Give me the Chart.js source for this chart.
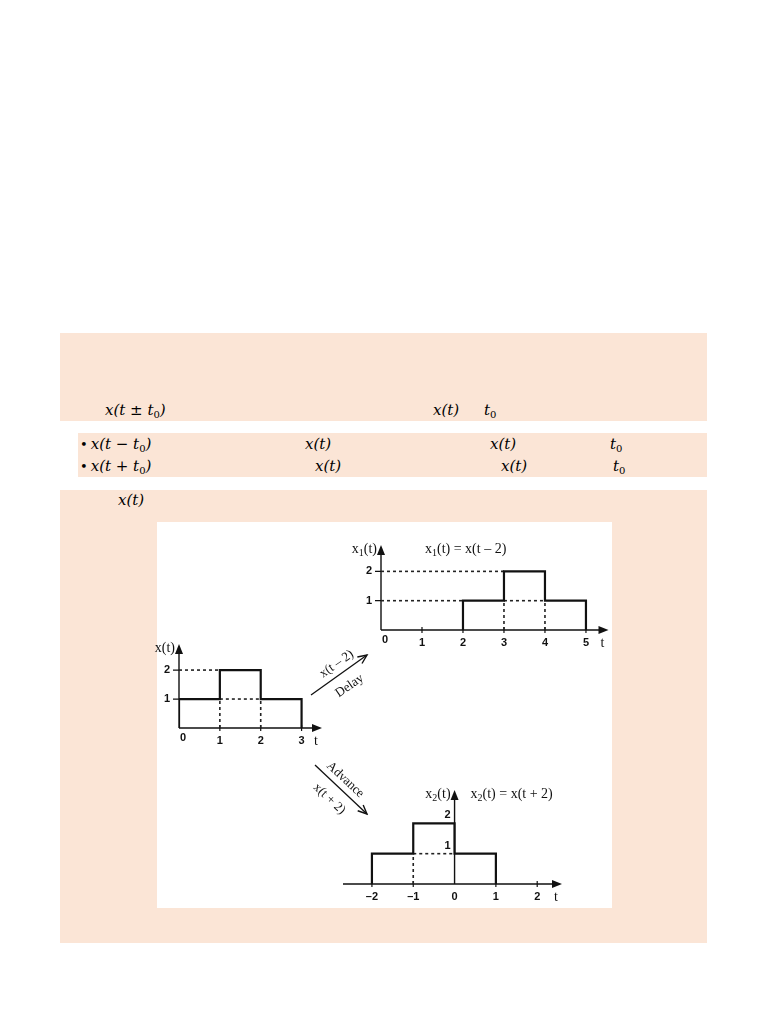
<!DOCTYPE html>
<html>
<head>
<meta charset="utf-8">
<script src="https://cdn.jsdelivr.net/npm/chart.js"></script>
<style>
body { margin: 0; background: #fff; width: 768px; height: 1024px; position: relative; overflow: hidden; }
.panel { position: absolute; background: #fbe5d6; }
.m { position: absolute; font-family: "DejaVu Serif", serif; font-style: italic; font-size: 15px; line-height: 20px; white-space: nowrap; color: #000; }
.m sub { font-style: normal; font-size: 10px; vertical-align: -3px; line-height: 0; }
.m .b { font-style: normal; font-size: 13px; margin-right: 3px; }
.box { position: absolute; left: 157px; top: 522px; width: 455px; height: 386px; background: #fff; }
canvas { position: absolute; }
svg { position: absolute; left: 0; top: 0; }
</style>
</head>
<body>
<div class="panel" style="left:60px;top:333px;width:647px;height:88px"></div>
<div class="panel" style="left:78px;top:433px;width:629px;height:44px"></div>
<div class="panel" style="left:60px;top:490px;width:647px;height:453px"></div>

<div class="m" style="left:105px;top:400px">x(t ± t<sub>0</sub>)</div>
<div class="m" style="left:433px;top:400px">x(t)</div>
<div class="m" style="left:484px;top:400px">t<sub>0</sub></div>

<div class="m" style="left:80px;top:434px"><span class="b">•</span>x(t − t<sub>0</sub>)</div>
<div class="m" style="left:305px;top:434px">x(t)</div>
<div class="m" style="left:490px;top:434px">x(t)</div>
<div class="m" style="left:610px;top:434px">t<sub>0</sub></div>

<div class="m" style="left:80px;top:456px"><span class="b">•</span>x(t + t<sub>0</sub>)</div>
<div class="m" style="left:315px;top:456px">x(t)</div>
<div class="m" style="left:501px;top:456px">x(t)</div>
<div class="m" style="left:613px;top:456px">t<sub>0</sub></div>

<div class="m" style="left:118px;top:490px">x(t)</div>

<div class="box"></div>
<canvas id="c1" width="230" height="194" style="left:150px;top:636px"></canvas>
<canvas id="c2" width="270" height="112" style="left:345px;top:535px"></canvas>
<canvas id="c3" width="245" height="125" style="left:330px;top:780px"></canvas>

<svg width="768" height="1024">
  <defs>
    <marker id="ah" markerWidth="12" markerHeight="12" refX="10" refY="5" orient="auto" markerUnits="userSpaceOnUse">
      <path d="M1,1 L10,5 L1,9" fill="none" stroke="#111" stroke-width="1.4"/>
    </marker>
  </defs>
  <g font-family="Liberation Serif, serif" font-size="13" fill="#111" text-anchor="middle">
    <line x1="311" y1="695" x2="367" y2="655" stroke="#111" stroke-width="1.3" marker-end="url(#ah)"/>
    <text transform="translate(336,663) rotate(-35)" dominant-baseline="central">x(t – 2)</text>
    <text transform="translate(349,685) rotate(-35)" dominant-baseline="central">Delay</text>
    <line x1="315" y1="765" x2="367" y2="814" stroke="#111" stroke-width="1.3" marker-end="url(#ah)"/>
    <text transform="translate(346,779) rotate(43)" dominant-baseline="central">Advance</text>
    <text transform="translate(330,798) rotate(43)" dominant-baseline="central">x(t + 2)</text>
  </g>
</svg>

<script>
// original signal x(t): edges of the pieces and the level of each piece
const xEdges = [0, 1, 2, 3];
const xLevels = [1, 2, 1];
// delayed x1(t) = x(t - 2)
const x1Edges = [2, 3, 4, 5];
const x1Levels = [1, 2, 1];
// advanced x2(t) = x(t + 2)
const x2Edges = [-2, -1, 0, 1];
const x2Levels = [1, 2, 1];

const xTicks = [0, 1, 2, 3];
const x1Ticks = [0, 1, 2, 3, 4, 5];
const x2Ticks = [-2, -1, 0, 1, 2];
const yTicks = [1, 2];

// dotted guide lines [t0, y0, t1, y1]
const xGuides = [[0, 2, 1, 2], [1, 1, 2, 1], [1, 0, 1, 1], [2, 0, 2, 1]];
const x1Guides = [[0, 2, 3, 2], [0, 1, 2, 1], [3, 1, 4, 1], [3, 0, 3, 1], [4, 0, 4, 1]];
const x2Guides = [[-1, 1, 0, 1], [-1, 0, -1, 1]];

function stepPoints(edges, levels) {
    let pts = [{x: edges[0], y: 0}];
    for (let i = 0; i < levels.length; i++) {
        pts.push({x: edges[i], y: levels[i]});
        pts.push({x: edges[i + 1], y: levels[i]});
    }
    pts.push({x: edges[edges.length - 1], y: 0});
    return pts;
}

// text with subscripts: parts = [[text, isSub], ...]
function drawRich(ctx, parts, x, y, align) {
    const big = '14px "Liberation Serif", serif', small = '10px "Liberation Serif", serif';
    let w = 0;
    for (let p of parts) { ctx.font = p[1] ? small : big; w += ctx.measureText(p[0]).width; }
    let cx = align === 'right' ? x - w : x;
    ctx.textAlign = 'left';
    ctx.textBaseline = 'middle';
    for (let p of parts) {
        ctx.font = p[1] ? small : big;
        ctx.fillText(p[0], cx, p[1] ? y + 4 : y);
        cx += ctx.measureText(p[0]).width;
    }
}

function makeAxes(info, ticks) {
    return {
        id: 'axes',
        beforeDatasetsDraw(chart) {
            const ctx = chart.ctx, xs = chart.scales.x, ys = chart.scales.y;
            const ox = xs.getPixelForValue(0), oy = ys.getPixelForValue(0);
            const xl = xs.getPixelForValue(xs.min), xr = xs.getPixelForValue(xs.max);
            const yt = ys.getPixelForValue(ys.max);
            ctx.save();
            ctx.strokeStyle = '#111';
            ctx.fillStyle = '#111';
            ctx.lineWidth = 1.4;
            ctx.beginPath();
            ctx.moveTo(xl, oy); ctx.lineTo(xr - 6, oy);
            ctx.moveTo(ox, oy); ctx.lineTo(ox, yt + 6);
            ctx.stroke();
            ctx.beginPath();
            ctx.moveTo(xr, oy); ctx.lineTo(xr - 10, oy - 4); ctx.lineTo(xr - 10, oy + 4); ctx.closePath(); ctx.fill();
            ctx.beginPath();
            ctx.moveTo(ox, yt); ctx.lineTo(ox - 4, yt + 10); ctx.lineTo(ox + 4, yt + 10); ctx.closePath(); ctx.fill();
            ctx.lineWidth = 1.2;
            ctx.beginPath();
            for (let v of ticks) {
                if (v === 0) continue;
                let px = xs.getPixelForValue(v);
                ctx.moveTo(px, oy - 3); ctx.lineTo(px, oy + 3);
            }
            if (info.yStyle === 'left') {
                for (let v of yTicks) {
                    let py = ys.getPixelForValue(v);
                    ctx.moveTo(ox - 6, py); ctx.lineTo(ox, py);
                }
            }
            ctx.stroke();
            ctx.restore();
        },
        afterDraw(chart) {
            const ctx = chart.ctx, xs = chart.scales.x, ys = chart.scales.y;
            const ox = xs.getPixelForValue(0), oy = ys.getPixelForValue(0);
            const xr = xs.getPixelForValue(xs.max), yt = ys.getPixelForValue(ys.max);
            ctx.save();
            ctx.fillStyle = '#111';
            ctx.font = 'bold 11px "Liberation Sans", Arial, sans-serif';
            ctx.textBaseline = 'middle';
            for (let v of ticks) {
                let label = String(v).replace('-', '\u2013');
                if (v === 0 && info.zeroLeft) {
                    ctx.textAlign = 'left';
                    ctx.fillText(label, ox + 1, oy + 10);
                } else {
                    ctx.textAlign = 'center';
                    ctx.fillText(label, xs.getPixelForValue(v), oy + 13);
                }
            }
            for (let v of yTicks) {
                let py = ys.getPixelForValue(v);
                ctx.textAlign = 'center';
                if (info.yStyle === 'left') ctx.fillText(String(v), ox - 12, py);
                else ctx.fillText(String(v), ox - 7, py - 8);
            }
            ctx.font = '14px "Liberation Serif", serif';
            ctx.textAlign = 'center';
            ctx.fillText('t', xr - 6, oy + 13);
            drawRich(ctx, info.yName, ox - 4, yt + 4, 'right');
            if (info.title) drawRich(ctx, info.title, ox + info.titleDx, yt + 4, 'left');
            ctx.restore();
        }
    };
}

function makeChart(id, edges, levels, guides, ticks, info) {
    const datasets = [{
        data: stepPoints(edges, levels),
        borderColor: '#111',
        borderWidth: 2.2,
        pointRadius: 0
    }];
    for (let g of guides) {
        datasets.push({
            data: [{x: g[0], y: g[1]}, {x: g[2], y: g[3]}],
            borderColor: '#222',
            borderWidth: 1.6,
            borderDash: [3, 3],
            pointRadius: 0
        });
    }
    new Chart(document.getElementById(id), {
        type: 'line',
        data: {datasets: datasets},
        options: {
            responsive: false,
            animation: false,
            layout: {padding: info.pad},
            elements: {line: {tension: 0}},
            scales: {
                x: {type: 'linear', display: false, min: info.xMin, max: info.xMax},
                y: {type: 'linear', display: false, min: 0, max: info.yMax}
            },
            plugins: {legend: {display: false}, tooltip: {enabled: false}}
        },
        plugins: [makeAxes(info, ticks)]
    });
}

makeChart('c1', xEdges, xLevels, xGuides, xTicks, {
    pad: {left: 29, right: 58, top: 8, bottom: 102},
    xMin: 0, xMax: 3.5, yMax: 2.9,
    zeroLeft: true, yStyle: 'left',
    yName: [['x(t)', false]]
});
makeChart('c2', x1Edges, x1Levels, x1Guides, x1Ticks, {
    pad: {left: 36, right: 6.5, top: 10, bottom: 17},
    xMin: 0, xMax: 5.55, yMax: 2.9,
    zeroLeft: true, yStyle: 'left',
    yName: [['x', false], ['1', true], ['(t)', false]],
    title: [['x', false], ['1', true], ['(t) = x(t \u2013 2)', false]],
    titleDx: 44
});
makeChart('c3', x2Edges, x2Levels, x2Guides, x2Ticks, {
    pad: {left: 13, right: 13, top: 10, bottom: 21},
    xMin: -2.7, xMax: 2.6, yMax: 3.1,
    zeroLeft: false, yStyle: 'above',
    yName: [['x', false], ['2', true], ['(t)', false]],
    title: [['x', false], ['2', true], ['(t) = x(t + 2)', false]],
    titleDx: 16
});
</script>
</body>
</html>
